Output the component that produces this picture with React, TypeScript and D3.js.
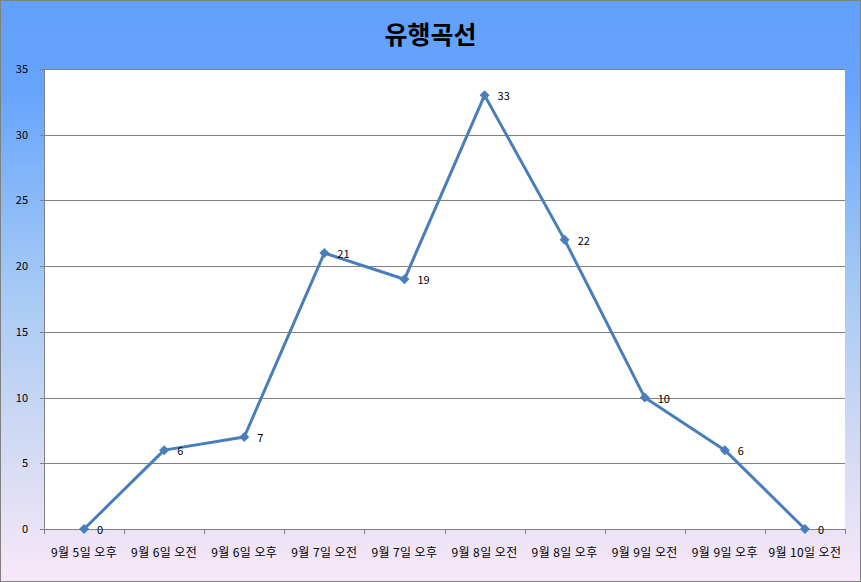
import React from "react";
import * as d3 from "d3";

const categories = ["9월 5일 오후", "9월 6일 오전", "9월 6일 오후", "9월 7일 오전", "9월 7일 오후", "9월 8일 오전", "9월 8일 오후", "9월 9일 오전", "9월 9일 오후", "9월 10일 오전"];
const values = [0, 6, 7, 21, 19, 33, 22, 10, 6, 0];
const yTicks = [0, 5, 10, 15, 20, 25, 30, 35];
const title = "유행곡선";

const W = 861, H = 582;
const m = { left: 44, right: 16, top: 69, bottom: 53 };

export default function App() {
  const x = d3.scaleBand<string>().domain(categories).range([m.left, W - m.right]).padding(0);
  const y = d3.scaleLinear().domain([0, 35]).range([H - m.bottom, m.top]);
  const cx = (c: string) => (x(c) as number) + x.bandwidth() / 2;
  const line = d3.line<number>().x((_, i) => cx(categories[i])).y((d) => y(d));
  const font = "'Noto Sans CJK KR', 'Noto Sans', sans-serif";
  const boundaries = categories.map((c) => x(c) as number).concat([W - m.right]);
  return (
    <svg width={W} height={H} style={{ position: "absolute", left: 0, top: 0 }}>
      <defs>
        <linearGradient id="bg" x1="0" y1="0" x2="0" y2="1">
          <stop offset="0" stopColor="#62a0fe" />
          <stop offset="0.15" stopColor="#66a4fd" />
          <stop offset="0.5" stopColor="#a6caf5" />
          <stop offset="0.8" stopColor="#d8dcf4" />
          <stop offset="1" stopColor="#f8e8f8" />
        </linearGradient>
      </defs>
      <rect x={0.5} y={0.5} width={W - 1} height={H - 1} fill="url(#bg)" stroke="#808080" />
      <text x={W / 2} y={44} textAnchor="middle" fontFamily={font} fontWeight="bold" fontSize={25} fill="#000">{title}</text>
      <rect x={m.left} y={m.top} width={W - m.left - m.right} height={H - m.top - m.bottom} fill="#ffffff" />
      {yTicks.map((t) => (
        <g key={t}>
          <line x1={m.left - 4} x2={W - m.right} y1={Math.round(y(t)) + 0.5} y2={Math.round(y(t)) + 0.5} stroke="#808080" strokeWidth={1} />
          <text x={m.left - 16} y={y(t) + 4} textAnchor="end" fontFamily={font} fontSize={11} fill="#000">{t}</text>
        </g>
      ))}
      <line x1={m.left + 0.5} x2={m.left + 0.5} y1={m.top} y2={H - m.bottom} stroke="#808080" />
      {boundaries.map((b, i) => (
        <line key={i} x1={Math.round(b) + 0.5} x2={Math.round(b) + 0.5} y1={H - m.bottom} y2={H - m.bottom + 5} stroke="#808080" />
      ))}
      {categories.map((c) => (
        <text key={c} x={cx(c)} y={H - m.bottom + 28} textAnchor="middle" fontFamily={font} fontSize={12} letterSpacing={0.4} fill="#000">{c}</text>
      ))}
      <path d={line(values) || ""} fill="none" stroke="#4a7ebb" strokeWidth={3} strokeLinejoin="round" />
      {values.map((v, i) => {
        const px = cx(categories[i]);
        const py = y(v);
        return (
          <g key={i}>
            <path d={`M${px},${py - 5}L${px + 5},${py}L${px},${py + 5}L${px - 5},${py}Z`} fill="#4a7ebb" />
            <text x={px + 13} y={py + 5} fontFamily={font} fontSize={11} fill="#000">{v}</text>
          </g>
        );
      })}
    </svg>
  );
}
